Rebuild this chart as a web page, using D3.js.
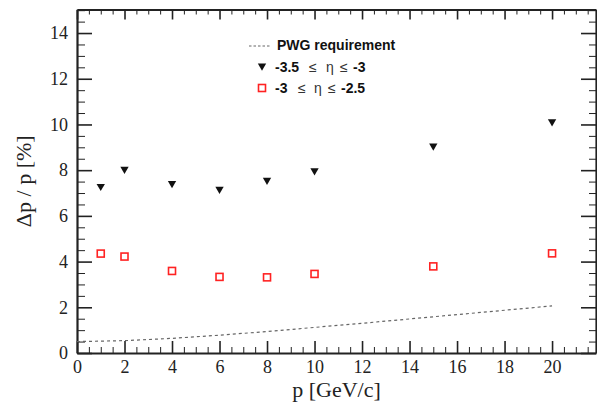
<!DOCTYPE html>
<html>
<head>
<meta charset="utf-8">
<script src="https://cdn.jsdelivr.net/npm/d3@7"></script>
<style>
  body { margin: 0; background: #fff; }
  svg { display: block; }
  .axis path, .axis line { stroke: #222; }
  .axis text, .title { font-family: "Liberation Serif", "Times New Roman", serif; fill: #222; }
  .axis text { font-size: 18px; }
  .title { font-size: 22px; }
  .legend text { font-family: "Liberation Sans", Arial, sans-serif; font-size: 14px; font-weight: bold; fill: #111; }
  .legend text.sym { font-weight: normal; fill: #333; }
</style>
</head>
<body>
<svg width="597" height="404"></svg>
<script>
// data
const momenta = [1, 2, 4, 6, 8, 10, 15, 20]
const resEta35 = [7.25, 8.0, 7.38, 7.12, 7.52, 7.93, 9.02, 10.08]   // -3.5 <= eta <= -3
const resEta3 = [4.35, 4.22, 3.59, 3.33, 3.31, 3.46, 3.79, 4.36]     // -3 <= eta <= -2.5
const pwgP = [0, 2, 4, 6, 8, 10, 12, 14, 16, 18, 20]
const pwgRes = [0.5, 0.54, 0.64, 0.78, 0.94, 1.12, 1.3, 1.49, 1.68, 1.87, 2.06]
const xTicks = [0, 2, 4, 6, 8, 10, 12, 14, 16, 18, 20]
const yTicks = [0, 2, 4, 6, 8, 10, 12, 14]

const svg = d3.select("svg")

// frame
const plotLeft = 77, plotRight = 596, plotTop = 9.5, plotBottom = 353

const x = d3.scaleLinear().domain([0, 21.85]).range([plotLeft, plotRight])
const y = d3.scaleLinear().domain([0, 15.03]).range([plotBottom, plotTop])

const xMinor = d3.range(0, 21.9, 0.5).filter(v => v % 2 !== 0)
const yMinor = d3.range(0, 15.01, 0.5).filter(v => v % 2 !== 0)

// drop d3's default sans font so the css serif applies
const labelFont = g => g.attr("font-family", null).attr("font-size", null)

// bottom axis
svg.append("g")
  .attr("class", "axis")
  .attr("transform", `translate(0,${plotBottom})`)
  .call(d3.axisBottom(x).tickValues(xMinor).tickSize(-6).tickSizeOuter(0).tickFormat(""))
  .call(g => g.select(".domain").remove())
svg.append("g")
  .attr("class", "axis")
  .attr("transform", `translate(0,${plotBottom})`)
  .call(d3.axisBottom(x).tickValues(xTicks).tickSize(-12).tickSizeOuter(0).tickPadding(7).tickFormat(d3.format("d")))
  .call(labelFont)
  .call(g => g.select(".domain").attr("stroke-width", 2.2))
  .call(g => g.selectAll(".tick line").attr("stroke-width", 1.6))

// left axis
svg.append("g")
  .attr("class", "axis")
  .attr("transform", `translate(${plotLeft},0)`)
  .call(d3.axisLeft(y).tickValues(yMinor).tickSize(-8).tickSizeOuter(0).tickFormat(""))
  .call(g => g.select(".domain").remove())
svg.append("g")
  .attr("class", "axis")
  .attr("transform", `translate(${plotLeft},0)`)
  .call(d3.axisLeft(y).tickValues(yTicks).tickSize(-15).tickSizeOuter(0).tickPadding(9).tickFormat(d3.format("d")))
  .call(labelFont)
  .call(g => g.select(".domain").attr("stroke-width", 2.2))
  .call(g => g.selectAll(".tick line").attr("stroke-width", 1.6))

// top axis, no labels
svg.append("g")
  .attr("class", "axis")
  .attr("transform", `translate(0,${plotTop})`)
  .call(d3.axisTop(x).tickValues(xMinor).tickSize(-5).tickSizeOuter(0).tickFormat(""))
  .call(g => g.select(".domain").remove())
svg.append("g")
  .attr("class", "axis")
  .attr("transform", `translate(0,${plotTop})`)
  .call(d3.axisTop(x).tickValues(xTicks).tickSize(-10).tickSizeOuter(0).tickFormat(""))
  .call(g => g.select(".domain").attr("stroke-width", 2.2))
  .call(g => g.selectAll(".tick line").attr("stroke-width", 1.6))

// right axis, no labels
svg.append("g")
  .attr("class", "axis")
  .attr("transform", `translate(${plotRight},0)`)
  .call(d3.axisRight(y).tickValues(yMinor).tickSize(-7).tickSizeOuter(0).tickFormat(""))
  .call(g => g.select(".domain").remove())
svg.append("g")
  .attr("class", "axis")
  .attr("transform", `translate(${plotRight},0)`)
  .call(d3.axisRight(y).tickValues(yTicks).tickSize(-15).tickSizeOuter(0).tickFormat(""))
  .call(g => g.select(".domain").attr("stroke-width", 2.2))
  .call(g => g.selectAll(".tick line").attr("stroke-width", 1.6))

// axis titles
svg.append("text")
  .attr("class", "title")
  .attr("x", (plotLeft + plotRight) / 2)
  .attr("y", 397)
  .attr("text-anchor", "middle")
  .text("p [GeV/c]")

svg.append("text")
  .attr("class", "title")
  .attr("transform", `translate(31,${(plotTop + plotBottom) / 2}) rotate(-90)`)
  .attr("text-anchor", "middle")
  .text("Δp / p [%]")

// PWG requirement line
const pwgLine = d3.line()
  .x((d, i) => x(pwgP[i]))
  .y(d => y(d))

svg.append("path")
  .datum(pwgRes)
  .attr("d", pwgLine)
  .attr("fill", "none")
  .attr("stroke", "#666")
  .attr("stroke-width", 1.2)
  .attr("stroke-dasharray", "3,3")

// triangles
const tri = d3.symbol().type(d3.symbolTriangle).size(30)
svg.selectAll("path.tri")
  .data(resEta35)
  .enter()
  .append("path")
  .attr("class", "tri")
  .attr("d", tri)
  .attr("transform", (d, i) => `translate(${x(momenta[i])},${y(d) - 1}) rotate(180)`)
  .attr("fill", "#111")

// open squares
svg.selectAll("rect.sq")
  .data(resEta3)
  .enter()
  .append("rect")
  .attr("class", "sq")
  .attr("x", (d, i) => x(momenta[i]) - 3.5)
  .attr("y", d => y(d) - 3.5)
  .attr("width", 7)
  .attr("height", 7)
  .attr("fill", "none")
  .attr("stroke", "#f22")
  .attr("stroke-width", 1.6)

// legend
const legend = svg.append("g").attr("class", "legend")

legend.append("line")
  .attr("x1", 249).attr("x2", 271)
  .attr("y1", 46).attr("y2", 46)
  .attr("stroke", "#666")
  .attr("stroke-dasharray", "2.5,2")
legend.append("text").attr("x", 277).attr("y", 50).text("PWG requirement")

// each piece of the eta label placed by hand, the symbols are a lighter font
const legendRow = (yPos, parts) => {
  parts.forEach(p => {
    legend.append("text")
      .attr("class", p.sym ? "sym" : null)
      .attr("x", p.x)
      .attr("y", yPos)
      .text(p.t)
  })
}

legend.append("path")
  .attr("d", tri)
  .attr("transform", "translate(262,66) rotate(180)")
  .attr("fill", "#111")
legendRow(72, [
  { x: 275, t: "-3.5" },
  { x: 309, t: "≤", sym: true },
  { x: 326, t: "η", sym: true },
  { x: 340, t: "≤", sym: true },
  { x: 353, t: "-3" }
])

legend.append("rect")
  .attr("x", 258.5).attr("y", 84.5)
  .attr("width", 7).attr("height", 7)
  .attr("fill", "none")
  .attr("stroke", "#f22")
  .attr("stroke-width", 1.6)
legendRow(93, [
  { x: 275, t: "-3" },
  { x: 298, t: "≤", sym: true },
  { x: 314, t: "η", sym: true },
  { x: 328, t: "≤", sym: true },
  { x: 341, t: "-2.5" }
])
</script>
</body>
</html>
